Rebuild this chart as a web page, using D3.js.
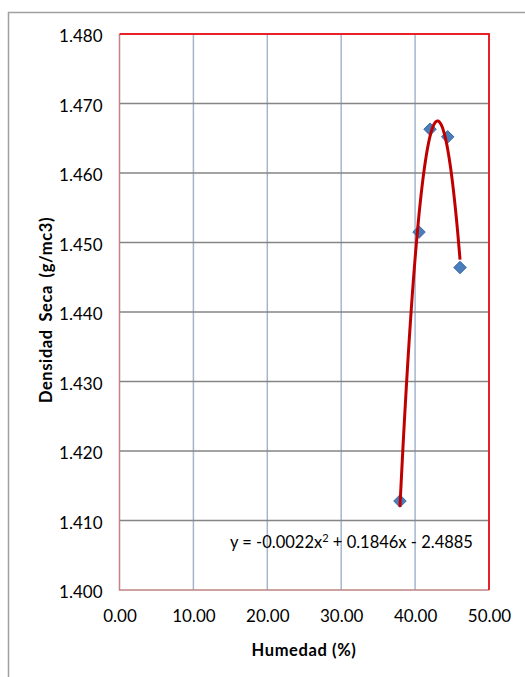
<!DOCTYPE html>
<html>
<head>
<meta charset="utf-8">
<script src="https://cdn.jsdelivr.net/npm/d3@7"></script>
<style>
  html, body { margin: 0; padding: 0; background: #fff; }
  svg { display: block; font-family: Lato, "Noto Sans", sans-serif; }
</style>
</head>
<body>
<svg id="chart" width="525" height="677"></svg>
<script>
// ---- data ----
const humedad = [37.95, 40.53, 42.02, 44.41, 46.08];
const densidad = [1.4128, 1.4515, 1.4663, 1.4652, 1.4464];
const xTicks = [0, 10, 20, 30, 40, 50];
const yTicks = [1.40, 1.41, 1.42, 1.43, 1.44, 1.45, 1.46, 1.47, 1.48];
const xTitle = "Humedad (%)";
const yTitle = "Densidad Seca (g/mc3)";
const eqParts = ["y = -0.0022x", "2", " + 0.1846x - 2.4885"];

// ---- layout ----
const svg = d3.select("#chart");
const L = 119.5, R = 489, T = 34, B = 590;
const x = d3.scaleLinear().domain([0, 50]).range([L, R]);
const y = d3.scaleLinear().domain([1.40, 1.48]).range([B, T]);

// outer chart border
svg.append("path")
  .attr("d", `M8.5,680 V12.5 H530`)
  .attr("fill", "none").attr("stroke", "#a0a0a0").attr("stroke-width", 1.5);

// vertical gridlines
svg.append("g").selectAll("line").data(xTicks.slice(1, -1)).join("line")
  .attr("x1", d => x(d)).attr("x2", d => x(d))
  .attr("y1", T).attr("y2", B)
  .attr("stroke", "#a5b6cc").attr("stroke-width", 1.5);

// horizontal gridlines
svg.append("g").selectAll("line").data(yTicks.slice(1, -1)).join("line")
  .attr("x1", L).attr("x2", R)
  .attr("y1", d => y(d)).attr("y2", d => y(d))
  .attr("stroke", "#858585").attr("stroke-width", 1.5);

// plot border: left/bottom axis lines (pinkish), top/right red
svg.append("path")
  .attr("d", `M${L},${T} V${B} H${R}`)
  .attr("fill", "none").attr("stroke", "#c08484").attr("stroke-width", 1.5);
svg.append("path")
  .attr("d", `M${L},${T} H${R} V${B}`)
  .attr("fill", "none").attr("stroke", "#e8202a").attr("stroke-width", 2);

// axes labels using d3 axes (no domain/ticks lines)
const yAxis = svg.append("g").attr("transform", `translate(${L},0)`)
  .call(d3.axisLeft(y).tickValues(yTicks).tickFormat(d3.format(".3f")).tickSize(0).tickPadding(17));
yAxis.select(".domain").remove();
yAxis.selectAll("text").attr("font-family", "Lato, sans-serif").attr("font-size", 17).attr("fill", "#000").attr("dy", "0.45em");

const xAxis = svg.append("g").attr("transform", `translate(0,${B})`)
  .call(d3.axisBottom(x).tickValues(xTicks).tickFormat(d3.format(".2f")).tickSize(0).tickPadding(20));
xAxis.select(".domain").remove();
xAxis.selectAll("text").attr("font-family", "Lato, sans-serif").attr("font-size", 17).attr("fill", "#000");

// axis titles
svg.append("text")
  .attr("x", 304).attr("y", 656)
  .attr("text-anchor", "middle").attr("font-weight", "bold").attr("font-size", 16.5)
  .attr("letter-spacing", 0.6).attr("fill", "#000")
  .text(xTitle);
svg.append("text")
  .attr("transform", `translate(52,310) rotate(-90)`)
  .attr("text-anchor", "middle").attr("font-weight", "bold").attr("font-size", 16.5)
  .attr("letter-spacing", 0.6).attr("word-spacing", 3).attr("fill", "#000")
  .text(yTitle);

// polynomial (order 2) least-squares trendline computed from the data
function quadFit(xs, ys) {
  const n = xs.length;
  let s = [0,0,0,0,0], t = [0,0,0];
  for (let i = 0; i < n; i++) {
    let p = 1;
    for (let k = 0; k < 5; k++) { s[k] += p; if (k < 3) t[k] += p * ys[i]; p *= xs[i]; }
  }
  const M = [[s[0], s[1], s[2], t[0]], [s[1], s[2], s[3], t[1]], [s[2], s[3], s[4], t[2]]];
  for (let c = 0; c < 3; c++) {
    for (let r = c + 1; r < 3; r++) {
      const f = M[r][c] / M[c][c];
      for (let k = c; k < 4; k++) M[r][k] -= f * M[c][k];
    }
  }
  const sol = [0,0,0];
  for (let r = 2; r >= 0; r--) {
    let v = M[r][3];
    for (let k = r + 1; k < 3; k++) v -= M[r][k] * sol[k];
    sol[r] = v / M[r][r];
  }
  return sol; // c0, c1, c2
}
const coef = quadFit(humedad, densidad);
const xMin = d3.min(humedad), xMax = d3.max(humedad);
const curvePts = d3.range(0, 101).map(i => {
  const xv = xMin + (xMax - xMin) * i / 100;
  return [xv, coef[0] + coef[1] * xv + coef[2] * xv * xv];
});

// markers
svg.append("g").selectAll("path").data(humedad.map((h, i) => [h, densidad[i]])).join("path")
  .attr("d", d3.symbol().type(d3.symbolDiamond2).size(100))
  .attr("transform", d => `translate(${x(d[0])},${y(d[1])})`)
  .attr("fill", "#4a7ebb").attr("stroke", "#3a6aa6").attr("stroke-width", 1);

// trendline
svg.append("path")
  .datum(curvePts)
  .attr("d", d3.line().x(d => x(d[0])).y(d => y(d[1])).curve(d3.curveBasis))
  .attr("fill", "none").attr("stroke", "#c00000").attr("stroke-width", 3);

// equation label
const eq = svg.append("text")
  .attr("x", 230).attr("y", 548)
  .attr("font-size", 16.5).attr("fill", "#000");
eq.append("tspan").text(eqParts[0]);
eq.append("tspan").attr("font-size", 11).attr("dy", -6).text(eqParts[1]);
eq.append("tspan").attr("dy", 6).text(eqParts[2]);
</script>
</body>
</html>
